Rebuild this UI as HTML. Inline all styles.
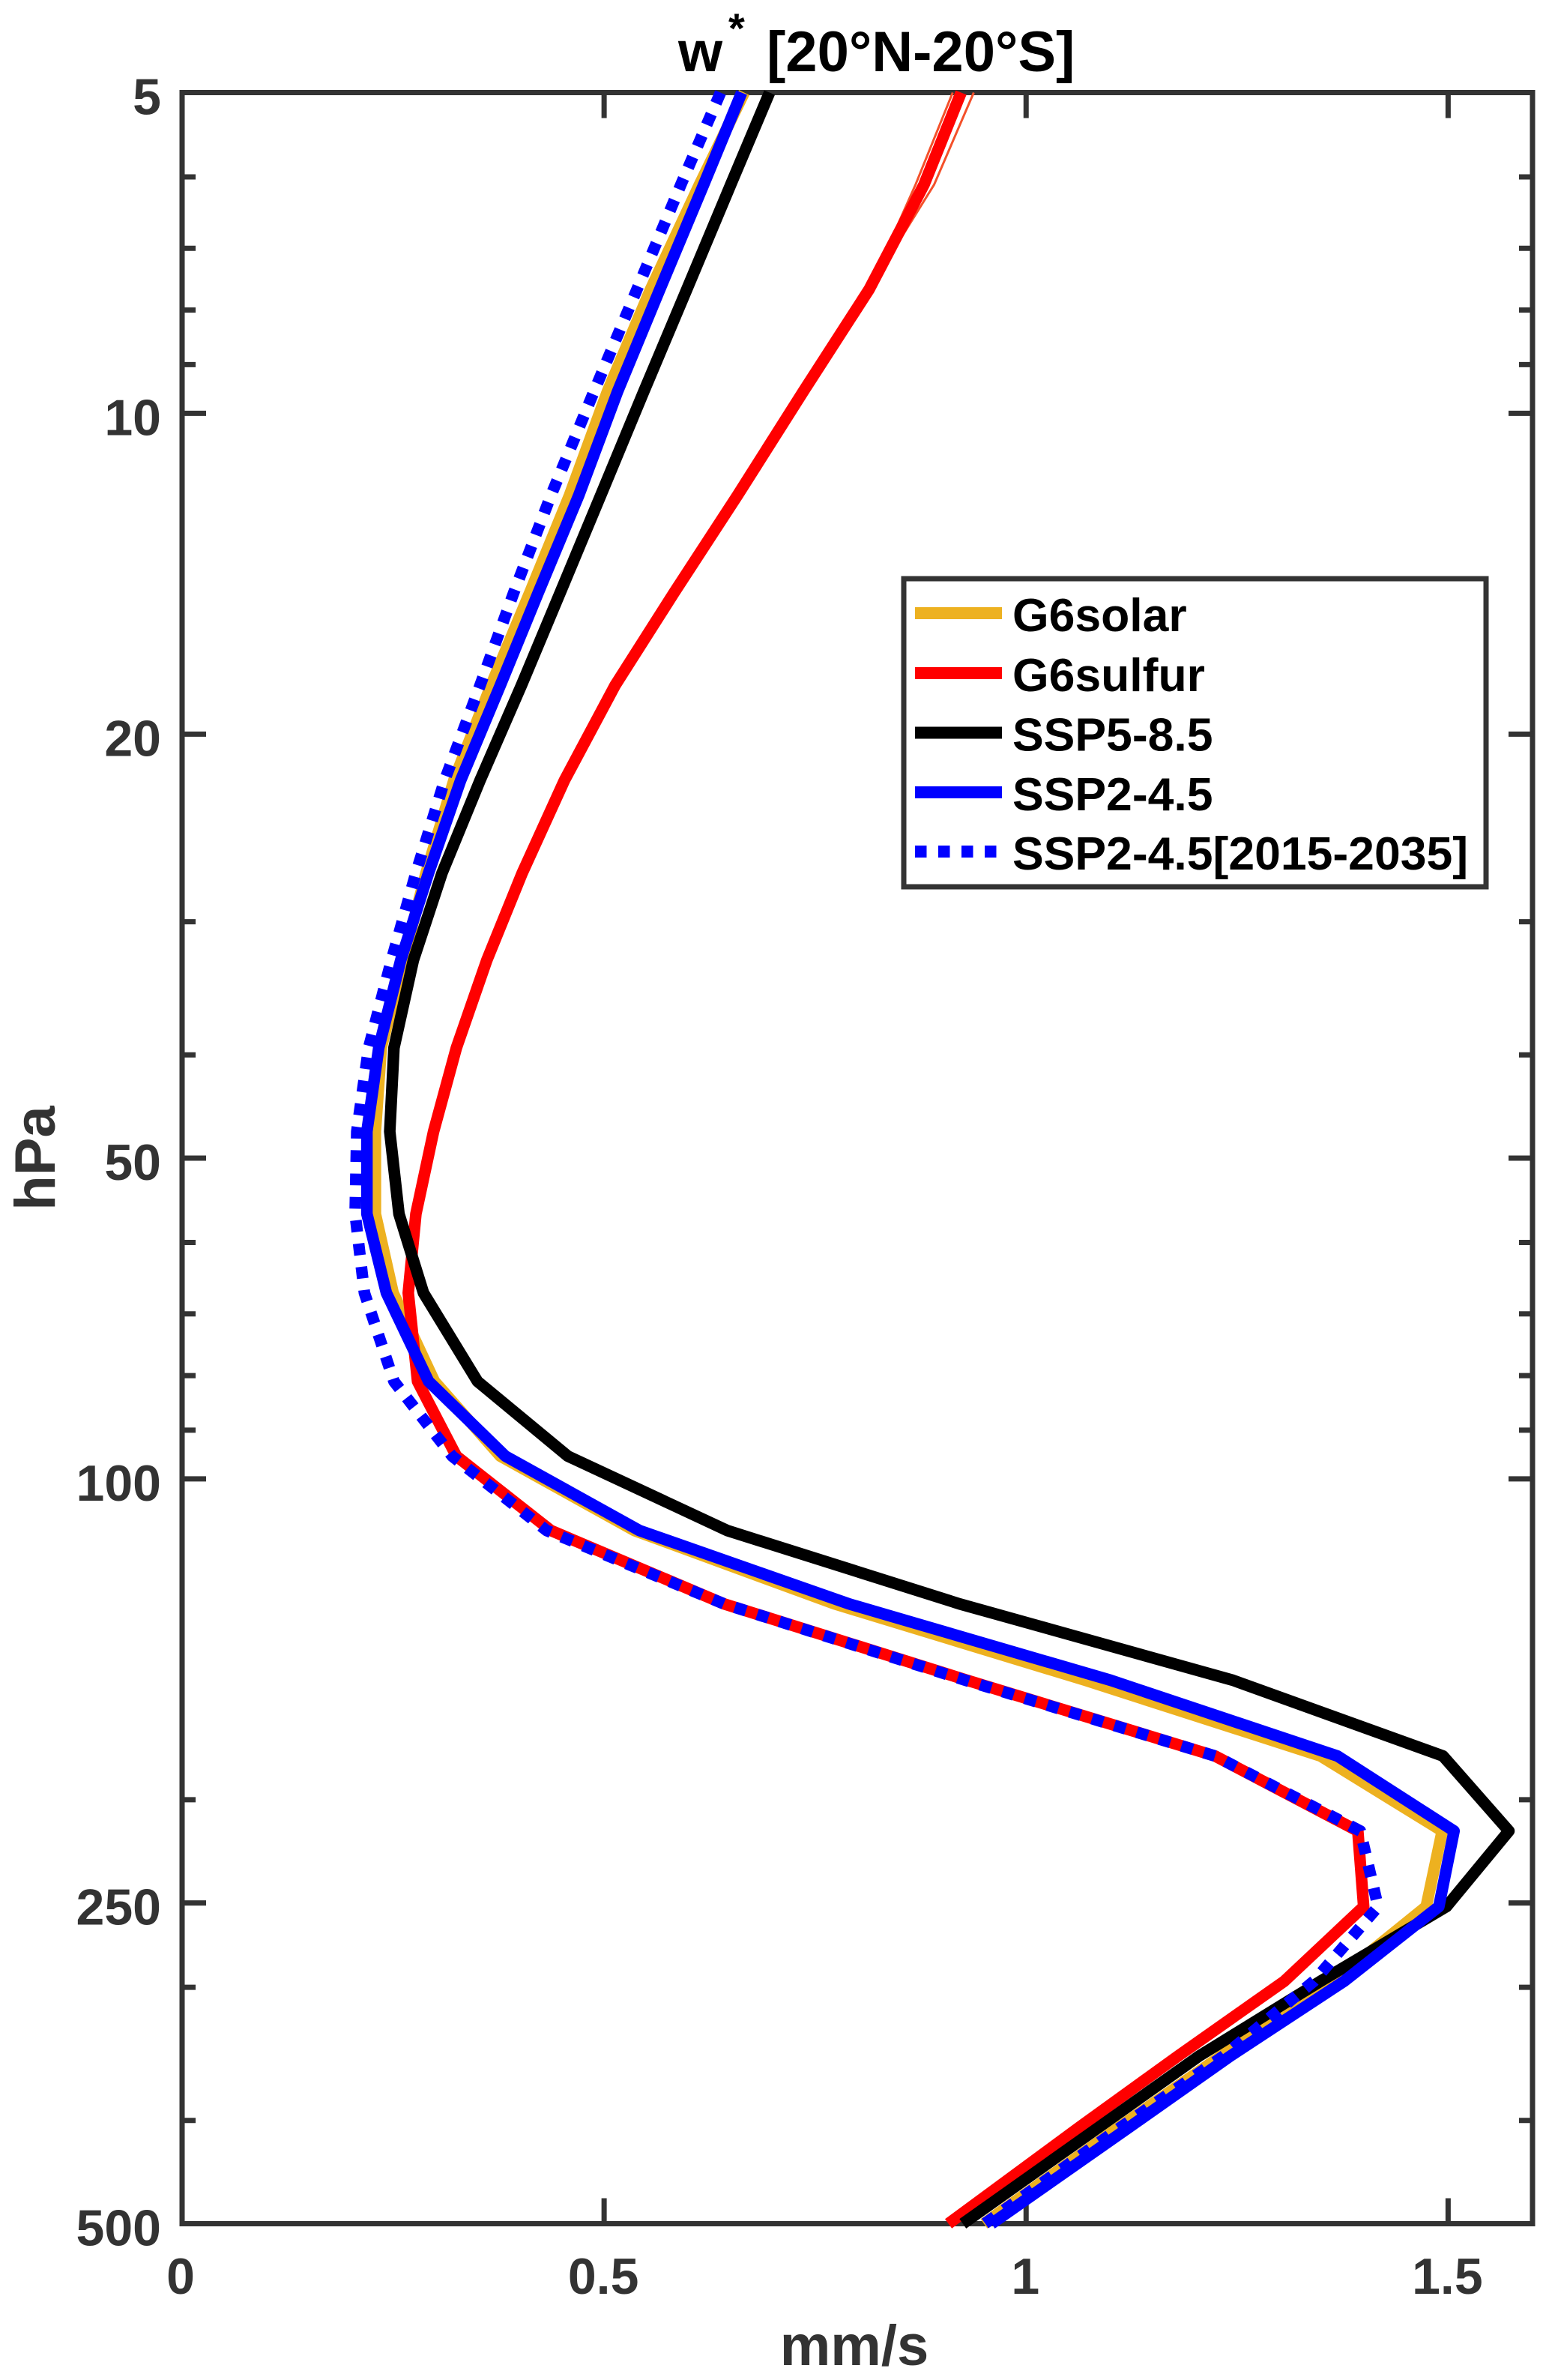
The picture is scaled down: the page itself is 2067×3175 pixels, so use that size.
<!DOCTYPE html>
<html lang="en">
<head>
<meta charset="utf-8">
<title>w* [20°N-20°S]</title>
<style>
html,body{margin:0;padding:0;background:#fff;width:2067px;height:3175px;overflow:hidden}
svg{display:block}
text{font-family:"Liberation Sans",Arial,sans-serif;font-weight:bold}
</style>
</head>
<body>
<svg id="chart" xmlns="http://www.w3.org/2000/svg" width="2067" height="3175" viewBox="0 0 2067 3175">
  <g fill="#000">
    <text x="905" y="95" font-size="76">w</text>
    <text x="972" y="57" font-size="56">*</text>
    <text x="1023" y="95" font-size="76">[20°N-20°S]</text>
  </g>
  <g id="axes"></g>
  <g id="series"></g>
  <text x="1140" y="3155" font-size="76" text-anchor="middle" fill="#333">mm/s</text>
  <text transform="translate(73,1545) rotate(-90)" font-size="76" text-anchor="middle" fill="#333">hPa</text>
  <g>
    <rect x="1206" y="772" width="777" height="411" fill="#fff" stroke="#333" stroke-width="7"/>
    <g id="legend-entries"></g>
  </g>
</svg>
<script>
// Chart data (pressure in hPa, velocity in mm/s)
const pressure = [5,6.1,7.65,9.54,11.94,14.73,18,22.1,27,32.6,39.4,47.2,56.4,66.9,81,95.2,111.8,131,154.5,182,214,252,296,348,406,500];
const g6solar = [.666,.613,.555,.504,.459,.412,.366,.322,.289,.262,.236,.229,.229,.250,.299,.377,.536,.773,1.070,1.349,1.493,1.474,1.365,1.231,1.110,.950];
const g6sulfur = [.923,.879,.814,.736,.658,.583,.513,.453,.403,.361,.325,.298,.277,.268,.279,.325,.437,.642,.930,1.224,1.393,1.400,1.306,1.180,1.063,.908];
const ssp585 = [.696,.650,.598,.547,.496,.448,.402,.353,.308,.274,.251,.246,.257,.286,.350,.457,.646,.921,1.245,1.494,1.572,1.498,1.349,1.205,1.086,.925];
const ssp245 = [.663,.618,.566,.516,.470,.422,.377,.330,.292,.259,.233,.219,.219,.242,.292,.383,.542,.790,1.100,1.369,1.507,1.489,1.377,1.242,1.122,.959];
const ssp245early = [.638,.591,.539,.488,.437,.393,.353,.311,.277,.248,.221,.207,.205,.216,.251,.320,.432,.642,.928,1.224,1.396,1.417,1.341,1.234,1.112,.951];
const spreadPressure = [5,6.1,7.65];
const g6sulfurLow = [.913,.869,.814];
const g6sulfurHigh = [.938,.891,.814];
const xTickValues = [0,0.5,1,1.5];
const xTickLabels = ['0','0.5','1','1.5'];
const yTickValues = [5,10,20,50,100,250,500];
const yTickLabels = ['5','10','20','50','100','250','500'];
const yMinorValues = [6,7,8,9,30,40,60,70,80,90,200,300,400];
const legendLabels = ['G6solar','G6sulfur','SSP5-8.5','SSP2-4.5','SSP2-4.5[2015-2035]'];

const NS = 'http://www.w3.org/2000/svg';
const L = 243, R = 2045, T = 123.5, B = 2966.5;
const INK = '#333';
const xScale = v => L + (v / 1.6) * (R - L);
const yScale = p => T + (Math.log10(p / 5) / 2) * (B - T);
const axes = document.getElementById('axes');
const series = document.getElementById('series');
const legendEntries = document.getElementById('legend-entries');

function makeLine(parent, x1, y1, x2, y2, color, width) {
  const el = document.createElementNS(NS, 'line');
  el.setAttribute('x1', x1);
  el.setAttribute('y1', y1);
  el.setAttribute('x2', x2);
  el.setAttribute('y2', y2);
  el.setAttribute('stroke', color);
  el.setAttribute('stroke-width', width);
  parent.appendChild(el);
  return el;
}
function makeLabel(parent, x, y, str, anchor, size, color) {
  const el = document.createElementNS(NS, 'text');
  el.setAttribute('x', x);
  el.setAttribute('y', y);
  el.setAttribute('text-anchor', anchor);
  el.setAttribute('font-size', size);
  el.setAttribute('fill', color);
  el.textContent = str;
  parent.appendChild(el);
  return el;
}
function makeSeries(xs, ps, color, width, dash) {
  const el = document.createElementNS(NS, 'polyline');
  el.setAttribute('points', xs.map((v, i) => xScale(v).toFixed(1) + ',' + yScale(ps[i]).toFixed(1)).join(' '));
  el.setAttribute('fill', 'none');
  el.setAttribute('stroke', color);
  el.setAttribute('stroke-width', width);
  el.setAttribute('stroke-linejoin', 'round');
  if (dash) el.setAttribute('stroke-dasharray', dash);
  series.appendChild(el);
  return el;
}

// Axes box
const box = document.createElementNS(NS, 'rect');
box.setAttribute('x', L);
box.setAttribute('y', T);
box.setAttribute('width', R - L);
box.setAttribute('height', B - T);
box.setAttribute('fill', 'none');
box.setAttribute('stroke', INK);
box.setAttribute('stroke-width', 7);


axes.appendChild(box);

// X ticks
xTickValues.forEach((v, i) => {
  const x = xScale(v);
  const bottomTick = makeLine(axes, x, B, x, B - 34, INK, 7);
  
  
  const topTick = makeLine(axes, x, T, x, T + 34, INK, 7);
  
  
  const label = makeLabel(axes, i === 0 ? x - 2 : x - 1, 3060, xTickLabels[i], 'middle', 68, INK);
  
  
});

// Y major ticks
yTickValues.forEach((p, i) => {
  const y = yScale(p);
  const leftTick = makeLine(axes, L, y, L + 32, y, INK, 7);
  
  
  const rightTick = makeLine(axes, R, y, R - 32, y, INK, 7);
  
  
  const label = makeLabel(axes, 215, y + 29, yTickLabels[i], 'end', 68, INK);
  
  
});

// Y minor ticks
yMinorValues.forEach(p => {
  const y = yScale(p);
  const leftMinor = makeLine(axes, L, y, L + 18, y, INK, 7);
  
  
  const rightMinor = makeLine(axes, R, y, R - 18, y, INK, 7);
  
  
});

// Series
const spreadLow = makeSeries(g6sulfurLow, spreadPressure, '#f4502a', 3);


const spreadHigh = makeSeries(g6sulfurHigh, spreadPressure, '#f4502a', 3);


const lineSolar = makeSeries(g6solar, pressure, '#edb120', 15.5);


const lineSulfur = makeSeries(g6sulfur, pressure, '#ff0000', 15.5);


const line585 = makeSeries(ssp585, pressure, '#000000', 15.5);


const line245 = makeSeries(ssp245, pressure, '#0000ff', 15.5);


const lineEarly = makeSeries(ssp245early, pressure, '#0000ff', 15.5, '15.6 15.6');



// Legend
const legendColors = ['#edb120', '#ff0000', '#000000', '#0000ff', '#0000ff'];
const legendY = [818, 898, 977.5, 1057, 1136];
legendLabels.forEach((name, i) => {
  const swatch = makeLine(legendEntries, 1221, legendY[i], i === 4 ? 1331 : 1337, legendY[i], legendColors[i], 16);
  if (i === 4) swatch.setAttribute('stroke-dasharray', '15.5 15.5');
  
  
  const label = makeLabel(legendEntries, 1351, legendY[i] + 24, name, 'start', 62.5, '#000');
  
  
});
</script>
</body>
</html>
